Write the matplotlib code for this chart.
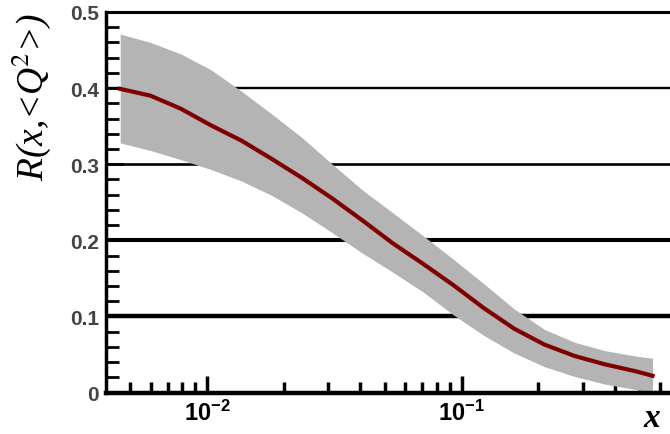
import numpy as np
import matplotlib
matplotlib.use('Agg')
import matplotlib.pyplot as plt
from matplotlib.ticker import FixedLocator, LogLocator, NullFormatter

plt.rcParams['font.family'] = 'Liberation Sans'
plt.rcParams['mathtext.fontset'] = 'custom'
plt.rcParams['mathtext.rm'] = 'Liberation Sans'
plt.rcParams['mathtext.it'] = 'Liberation Sans:italic'
plt.rcParams['mathtext.bf'] = 'Liberation Sans:bold'

# values
xVals = [0.00456, 0.00600, 0.00788, 0.01037, 0.01365, 0.01795, 0.02361, 0.03105,
         0.04084, 0.05372, 0.07066, 0.09293, 0.1222, 0.1607, 0.2114, 0.2780,
         0.3656, 0.4815, 0.5624]
rCentral = [0.399, 0.390, 0.373, 0.351, 0.331, 0.307, 0.282, 0.255, 0.226, 0.196,
            0.169, 0.141, 0.111, 0.084, 0.063, 0.048, 0.037, 0.028, 0.022]
rUpper = [0.471, 0.460, 0.445, 0.424, 0.396, 0.366, 0.335, 0.300, 0.266, 0.236,
          0.206, 0.175, 0.143, 0.110, 0.083, 0.066, 0.055, 0.048, 0.045]
rLower = [0.328, 0.318, 0.306, 0.293, 0.278, 0.259, 0.236, 0.210, 0.183, 0.158,
          0.132, 0.102, 0.075, 0.052, 0.034, 0.021, 0.011, 0.004, 0.0]
hLines = [0.1, 0.2, 0.3, 0.4]
hLineWidths = [3.2, 2.9, 1.9, 1.7]
yTicks = [0, 0.1, 0.2, 0.3, 0.4, 0.5]
yTickLabels = ['0', '0.1', '0.2', '0.3', '0.4', '0.5']
xTicks = [0.01, 0.1]
xTickLabels = [r'$\mathbf{10^{-2}}$', r'$\mathbf{10^{-1}}$']

fig = plt.figure(figsize=(6.7, 4.35), dpi=100)
ax = fig.add_axes([106/670, 1-393.5/435, 1-106/670+0.01, (393.5-13)/435])

for yv, lw in zip(hLines, hLineWidths):
    ax.axhline(yv, color='k', linewidth=lw, zorder=1)

ax.fill_between(xVals, rLower, rUpper, color='#b4b4b4', linewidth=0, zorder=3)
ax.plot(xVals, rCentral, color='#800000', linewidth=3, zorder=4)

ax.set_xscale('log')
ax.set_xlim(0.00401, 0.70)
ax.set_ylim(0, 0.5)

ax.yaxis.set_major_locator(FixedLocator(yTicks))
ax.yaxis.set_minor_locator(FixedLocator(np.arange(0, 0.5, 0.02)))
ax.set_yticklabels(yTickLabels)
ax.xaxis.set_major_locator(FixedLocator(xTicks))
ax.xaxis.set_minor_locator(LogLocator(base=10, subs=np.arange(2, 10)))
ax.xaxis.set_minor_formatter(NullFormatter())
ax.set_xticklabels(xTickLabels)

ax.tick_params(axis='both', which='both', direction='in', colors='k')
ax.tick_params(axis='y', which='major', length=12, width=2, pad=5, labelsize=15, labelcolor='#444444')
ax.tick_params(axis='y', which='minor', length=9, width=2)
ax.tick_params(axis='x', which='major', length=12, width=2.5, pad=5, labelsize=17)
ax.tick_params(axis='x', which='minor', length=8, width=2.5)
for lab in ax.get_yticklabels():
    lab.set_fontweight('bold')

ax.spines['right'].set_visible(False)
ax.spines['left'].set_linewidth(2.5)
ax.spines['top'].set_linewidth(2.2)
ax.spines['bottom'].set_linewidth(3.2)
for sp in ax.spines.values():
    sp.set_zorder(5)

fig.text(31/670, 1-13/435, r'R(x,<Q$^{2}$>)', rotation=90, ha='center', va='top',
         fontsize=27, family='Liberation Serif', style='italic', math_fontfamily='stix')
fig.text(652/670, 1-427/435, 'x', ha='center', va='baseline', fontsize=24,
         family='Liberation Serif', style='italic', weight='bold')

fig.savefig('out.png', dpi=100)
